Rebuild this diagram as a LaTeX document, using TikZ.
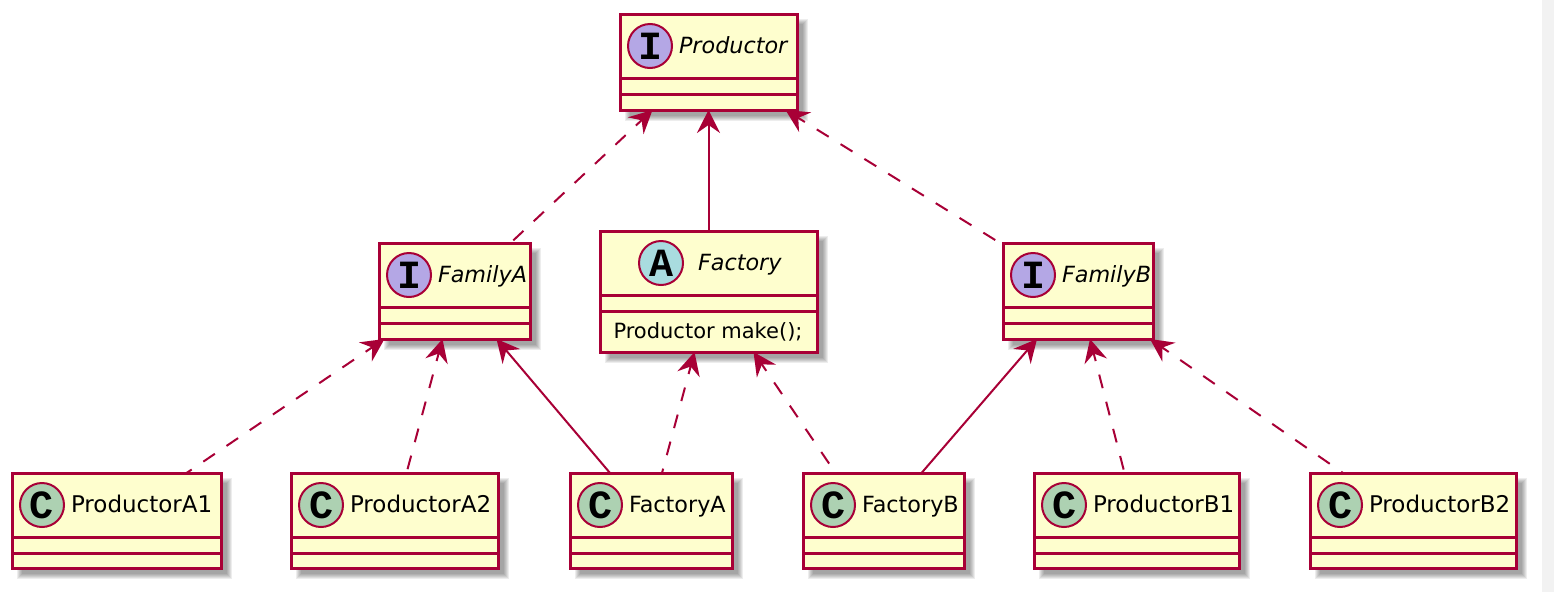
\documentclass[tikz,border=0pt]{standalone}
\usepackage{fontspec}
\setmainfont{DejaVu Sans}
\newfontfamily\spotfont{Liberation Mono}
\usetikzlibrary{arrows.meta,positioning,backgrounds}
\definecolor{umlred}{HTML}{A80036}
\definecolor{umlfill}{HTML}{FEFECE}
\definecolor{ifacefill}{HTML}{B4A7E5}
\definecolor{absfill}{HTML}{A9DCDF}
\definecolor{classfill}{HTML}{ADD1B2}
\definecolor{stripfill}{HTML}{F2F2F2}
\tikzset{
  classbox/.style={draw=umlred,fill=umlfill,line width=3pt,rectangle,inner sep=0pt,outer sep=0pt},
  spot/.style={draw=umlred,line width=2pt,circle,minimum size=44pt,inner sep=0pt,outer sep=0pt,text=black,font=\spotfont\bfseries\fontsize{40}{40}\selectfont},
  title/.style={inner sep=0pt,outer sep=0pt,text=black,text height=17pt,text depth=5pt,font=\fontsize{22.3}{26}\selectfont},
  sep/.style={draw=umlred,line width=3pt},
  uses/.style={umlred,line width=2pt,{Stealth[length=23pt,width=23pt,inset=8pt]}-},
  dep/.style={uses,dash pattern=on 14pt off 14pt,dash phase=5.5pt}
}
% name, left, right, top, height, spot offset, letter, spot colour, title
\newcommand{\umlbox}[9]{
  \node[classbox,minimum width=#3-#2,minimum height=#5] (#1) at ({(#2+#3)/2},{#4+#5/2}) {};
  \begin{pgfonlayer}{background}
    \foreach\s in {-2,-1,0,1,2,3}
      \fill[black,opacity=.07]([shift={(8-\s,8-\s)}]#1.north west)rectangle([shift={(8+\s,8+\s)}]#1.south east);
  \end{pgfonlayer}
  \draw[sep](#2,#4+64)--(#3,#4+64);
  \draw[sep](#2,#4+80)--(#3,#4+80);
  \node[spot,fill=#8] (#1 spot) at (#2+#6,#4+32) {#7};
  \node[title,right=7pt of #1 spot,yshift=-1.5pt] (#1 title) {#9};
}

\begin{document}
\begin{tikzpicture}[x=1pt,y=-1pt]
  \useasboundingbox(0,0)rectangle(1554,592);
  \fill[stripfill](1542,0)rectangle(1554,592);
  \umlbox{Productor}{620}{797}{14}{96}{30}{I}{ifacefill}{\itshape Productor}
  \foreach\nm/\lt/\rt/\tp in {FamilyA/379/530/243,FamilyB/1003/1153/243} {
    \umlbox{\nm}{\lt}{\rt}{\tp}{96}{30}{I}{ifacefill}{\itshape\nm}
  }
  \umlbox{Factory}{600}{817}{231}{121}{61}{A}{absfill}{\hspace*{8pt}\itshape Factory}
  \node[title,font=\fontsize{21}{26}\selectfont] (make) at (708,332) {Productor make();};
  \foreach\nm/\lt/\rt in {ProductorA1/12/221,ProductorA2/291/498,ProductorB1/1034/1239,ProductorB2/1310/1516} {
    \umlbox{\nm}{\lt}{\rt}{473}{95}{30}{C}{classfill}{\fontsize{23}{26}\selectfont\nm}
  }
  \foreach\nm/\lt/\rt in {FactoryA/570/732,FactoryB/803/964} {
    \umlbox{\nm}{\lt}{\rt}{473}{95}{30}{C}{classfill}{\nm}
  }
  \draw[dep]([xshift=-56pt]Productor.south)--([xshift=56pt]FamilyA.north);
  \draw[uses](Productor.south)--(Factory.north);
  \draw[dep]([xshift=77pt]Productor.south)--([xshift=-78pt]FamilyB.north);
  \draw[dep]([xshift=-70pt]FamilyA.south)--([xshift=70pt]ProductorA1.north);
  \draw[dep]([xshift=-12pt]FamilyA.south)--([xshift=12pt]ProductorA2.north);
  \draw[uses]([xshift=42pt]FamilyA.south)--([xshift=-41pt]FactoryA.north);
  \draw[dep]([xshift=-14pt]Factory.south)--([xshift=11pt]FactoryA.north);
  \draw[dep]([xshift=45pt]Factory.south)--([xshift=-48pt]FactoryB.north);
  \draw[uses]([xshift=-41pt]FamilyB.south)--([xshift=38pt]FactoryB.north);
  \draw[dep]([xshift=12pt]FamilyB.south)--([xshift=-12pt]ProductorB1.north);
  \draw[dep]([xshift=72pt]FamilyB.south)--([xshift=-70pt]ProductorB2.north);
\end{tikzpicture}
\end{document}
